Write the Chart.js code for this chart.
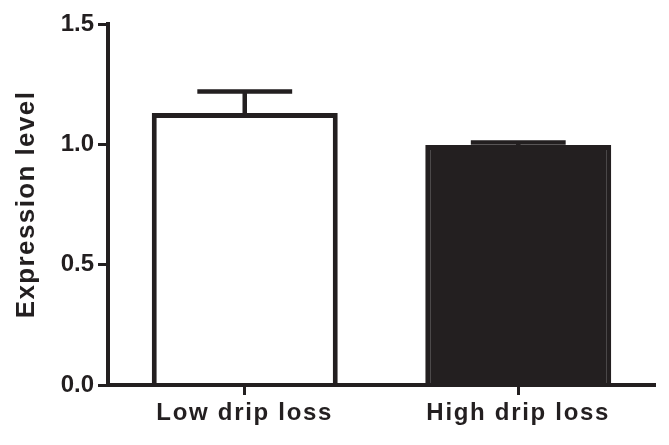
<!DOCTYPE html>
<html>
<head>
<meta charset="utf-8">
<script src="https://cdn.jsdelivr.net/npm/chart.js@4"></script>
<style>
  body { margin: 0; background: #fff; }
  #wrap { width: 669px; height: 445px; }
</style>
</head>
<body>
<div id="wrap"><canvas id="bar-chart"></canvas></div>
<script>
const categories = ['Low drip loss', 'High drip loss'];
const means = [1.13, 0.997];
const errors = [0.09, 0.011];
const yTicks = [0, 0.5, 1.0, 1.5];

const ink = '#231f20';
const fontFamily = '"Liberation Sans", Arial, sans-serif';

// the figure's labels are set wider than plain Arial bold, so space the letters a bit
function spaced(scale, name, gap) {
    if (scale['_orig_' + name]) return;
    const orig = scale[name];
    scale['_orig_' + name] = orig;
    scale[name] = function (...args) {
        const c = this.ctx;
        c.save();
        c.letterSpacing = gap;
        orig.apply(this, args);
        c.restore();
    };
}

const textSpacing = {
    id: 'textSpacing',
    beforeDraw(chart) {
        spaced(chart.scales.x, 'drawLabels', '1.7px');
        spaced(chart.scales.y, 'drawTitle', '1.4px');
    }
};

// SEM whiskers on top of each bar
const errorBars = {
    id: 'errorBars',
    afterDatasetsDraw(chart) {
        const ctx = chart.ctx;
        const y = chart.scales.y;
        const meta = chart.getDatasetMeta(0);
        ctx.save();
        ctx.strokeStyle = ink;
        ctx.lineWidth = 4.5;
        meta.data.forEach((bar, i) => {
            const top = y.getPixelForValue(means[i] + errors[i]);
            const half = bar.width * 0.255;
            ctx.beginPath();
            ctx.moveTo(bar.x, bar.y);
            ctx.lineTo(bar.x, top);
            ctx.moveTo(bar.x - half, top);
            ctx.lineTo(bar.x + half, top);
            ctx.stroke();
        });
        ctx.restore();
    }
};

const ctx = document.getElementById('bar-chart').getContext('2d');
new Chart(ctx, {
    type: 'bar',
    data: {
        labels: categories,
        datasets: [{
            data: means,
            backgroundColor: ['#ffffff', ink],
            borderColor: ink,
            borderWidth: 5,
            borderSkipped: 'start',
            barPercentage: 0.68,
            categoryPercentage: 1
        }]
    },
    options: {
        responsive: true,
        maintainAspectRatio: false,
        animation: false,
        layout: { padding: { top: 24, right: 14, left: 0, bottom: 0 } },
        plugins: {
            legend: { display: false },
            tooltip: { enabled: false }
        },
        scales: {
            x: {
                afterFit(scale) { scale.height = 60; },
                grid: {
                    offset: false,
                    drawOnChartArea: false,
                    drawTicks: true,
                    tickLength: 10,
                    tickWidth: 3,
                    tickColor: ink
                },
                border: { display: true, color: ink, width: 4, z: 1 },
                ticks: {
                    color: ink,
                    padding: 4,
                    font: { family: fontFamily, size: 24, weight: 'bold' }
                }
            },
            y: {
                min: 0,
                max: 1.5,
                afterFit(scale) { scale.width = 108; },
                afterBuildTicks(scale) { scale.ticks = yTicks.map(v => ({ value: v })); },
                grid: {
                    drawOnChartArea: false,
                    drawTicks: true,
                    tickLength: 10,
                    tickWidth: 3,
                    tickColor: ink
                },
                border: { display: true, color: ink, width: 4, z: 1 },
                ticks: {
                    color: ink,
                    padding: 4,
                    font: { family: fontFamily, size: 24, weight: 'bold' },
                    callback: v => Number(v).toFixed(1)
                },
                title: {
                    display: true,
                    text: 'Expression level',
                    color: ink,
                    padding: { top: 11, bottom: 0 },
                    font: { family: fontFamily, size: 26, weight: 'bold' }
                }
            }
        }
    },
    plugins: [textSpacing, errorBars]
});
</script>
</body>
</html>
